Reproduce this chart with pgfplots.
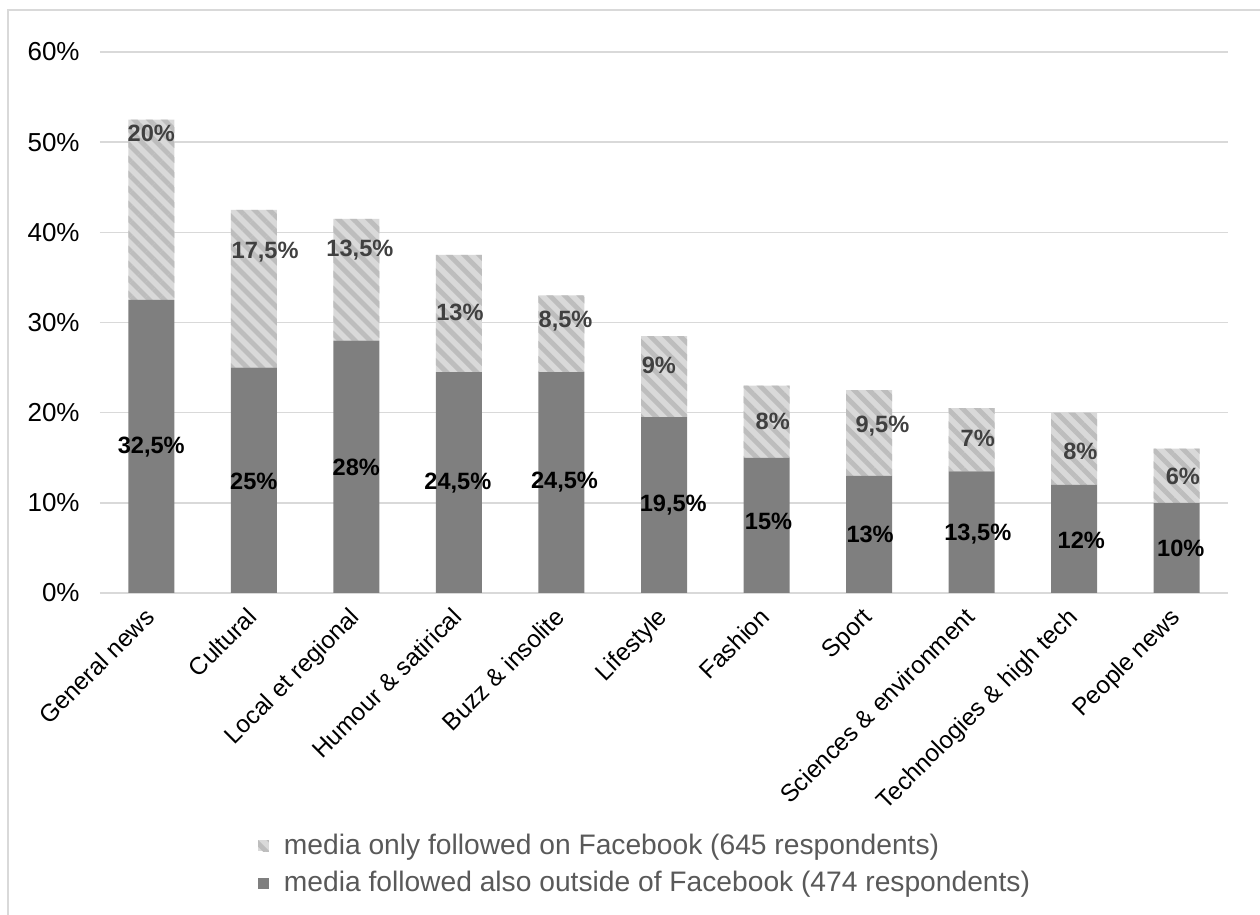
\documentclass[border=0pt]{standalone}
\usepackage{pgfplots}
\pgfplotsset{compat=1.18}
\usepackage{fontspec}
\setmainfont{Liberation Sans}
\usetikzlibrary{patterns.meta}
\definecolor{darkbar}{HTML}{7F7F7F}
\definecolor{lightbar}{HTML}{D9D9D9}
\definecolor{stripe}{HTML}{BDBDBD}
\definecolor{gridc}{HTML}{D9D9D9}
\definecolor{legtext}{HTML}{595959}
\definecolor{toplab}{HTML}{404040}
\begin{document}
\begin{tikzpicture}
\useasboundingbox (-50pt,-161pt) rectangle (580pt,296.5pt);
\draw[gridc, line width=0.8pt] (-46pt,291.5pt) rectangle (620pt,-220pt);
\begin{axis}[
  at={(0pt,0pt)}, anchor=south west,
  width=564pt, height=270.5pt, scale only axis,
  ybar stacked, bar width=23pt,
  xmin=-0.5, xmax=10.5, ymin=0, ymax=60,
  axis line style={draw=none},
  ytick={0,10,...,60},
  yticklabels={0\%,10\%,20\%,30\%,40\%,50\%,60\%},
  ymajorgrids, grid style={gridc, line width=0.8pt},
  major tick length=0pt,
  xtick={0,...,10},
  xticklabels={General news,Cultural,Local et regional,Humour \& satirical,Buzz \& insolite,Lifestyle,Fashion,Sport,Sciences \& environment,Technologies \& high tech,People news},
  xticklabel style={xshift=-4pt, yshift=-5pt, rotate=45, anchor=north east, font=\fontsize{12.2}{14}\selectfont, inner sep=1pt},
  yticklabel style={font=\fontsize{13}{15}\selectfont, inner sep=0pt, xshift=-10pt},
  /pgf/number format/assume math mode=true,
  legend style={at={(0.1345,-0.43)}, anchor=north west, draw=none, fill=none,
    font=\fontsize{14.1}{16}\selectfont, text=legtext, row sep=3pt,
    /tikz/every odd column/.append style={column sep=5.5pt}},
  legend cell align=left,
  reverse legend,
  legend image code/.code={\path[#1, draw=none] (0pt,-2.7pt) rectangle (5.4pt,2.7pt);},
  clip=false,
]
\addplot[fill=darkbar, draw=none] coordinates {
(0,32.5) (1,25) (2,28) (3,24.5) (4,24.5) (5,19.5) (6,15) (7,13) (8,13.5) (9,12) (10,10)};
\addlegendentry{media followed also outside of Facebook (474 respondents)}
\addplot[fill=lightbar, draw=none, postaction={pattern={Lines[angle=-45,distance=5.3pt,line width=2.4pt]}, pattern color=stripe}] coordinates {
(0,20) (1,17.5) (2,13.5) (3,13) (4,8.5) (5,9) (6,8) (7,9.5) (8,7) (9,8) (10,6)};
\addlegendentry{media only followed on Facebook (645 respondents)}
\end{axis}
\begin{axis}[
  at={(0pt,0pt)}, anchor=south west,
  width=564pt, height=270.5pt, scale only axis,
  xmin=-0.5, xmax=10.5, ymin=0, ymax=60,
  hide axis, clip=false,
]
\tikzset{toplbl/.style={font=\bfseries\fontsize{11.8}{14}\selectfont, text=toplab},
         botlbl/.style={font=\bfseries\fontsize{11.8}{14}\selectfont, text=black}}
\node[toplbl] at (axis cs:0.0,51.0) {20\%};
\node[toplbl] at (axis cs:1.11,37.8) {17,5\%};
\node[toplbl] at (axis cs:2.035,38.0) {13,5\%};
\node[toplbl] at (axis cs:3.01,31.1) {13\%};
\node[toplbl] at (axis cs:4.04,30.2) {8,5\%};
\node[toplbl] at (axis cs:4.95,25.2) {9\%};
\node[toplbl] at (axis cs:6.06,19.0) {8\%};
\node[toplbl] at (axis cs:7.13,18.5) {9,5\%};
\node[toplbl] at (axis cs:8.06,17.2) {7\%};
\node[toplbl] at (axis cs:9.06,15.7) {8\%};
\node[toplbl] at (axis cs:10.06,12.9) {6\%};
\node[botlbl] at (axis cs:0.0,16.2) {32,5\%};
\node[botlbl] at (axis cs:1.0,12.4) {25\%};
\node[botlbl] at (axis cs:2.0,13.9) {28\%};
\node[botlbl] at (axis cs:2.99,12.2) {24,5\%};
\node[botlbl] at (axis cs:4.03,12.3) {24,5\%};
\node[botlbl] at (axis cs:5.09,9.8) {19,5\%};
\node[botlbl] at (axis cs:6.02,7.9) {15\%};
\node[botlbl] at (axis cs:7.01,6.5) {13\%};
\node[botlbl] at (axis cs:8.06,6.5) {13,5\%};
\node[botlbl] at (axis cs:9.07,5.8) {12\%};
\node[botlbl] at (axis cs:10.04,5.0) {10\%};
\end{axis}
\end{tikzpicture}
\end{document}
